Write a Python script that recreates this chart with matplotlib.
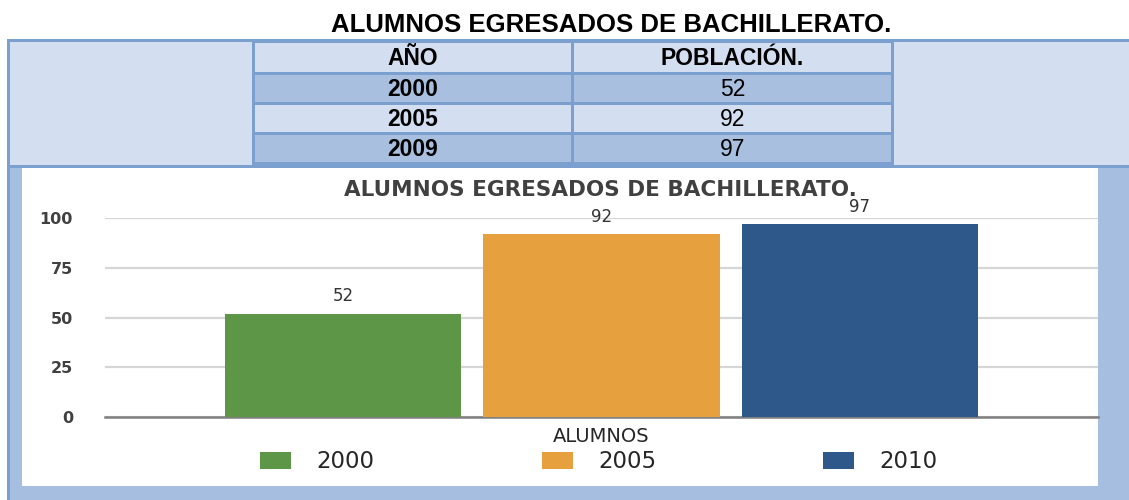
import matplotlib
matplotlib.use("Agg")
import matplotlib.pyplot as plt
from matplotlib.patches import Rectangle

# table data (top of the page)
table_title = "ALUMNOS EGRESADOS DE BACHILLERATO."
table_header = ["AÑO", "POBLACIÓN."]
table_years = ["2000", "2005", "2009"]
table_values = [52, 92, 97]

# chart data (embedded picture below the table)
chart_title = "ALUMNOS EGRESADOS DE BACHILLERATO."
category = "ALUMNOS"
series_labels = ["2000", "2005", "2010"]
series_values = [52, 92, 97]
series_colors = ["#5e9648", "#e6a13e", "#2e588a"]
y_ticks = [0, 25, 50, 75, 100]

W, H = 1129, 500
border = "#7b9fcf"
light = "#d3dff0"
dark = "#a8bfe0"
frame = "#a6bedf"

fig = plt.figure(figsize=(W / 100, H / 100), dpi=100, facecolor="white")

# background axes in pixel units for the document look
bg = fig.add_axes([0, 0, 1, 1])
bg.set_xlim(0, W)
bg.set_ylim(H, 0)
bg.axis("off")

def box(x0, y0, x1, y1, color):
    bg.add_patch(Rectangle((x0, y0), x1 - x0, y1 - y0, facecolor=color, edgecolor="none"))

bg.text(611, 32, table_title, ha="center", va="baseline", fontsize=18.5,
        fontweight="bold", family="Liberation Sans", color="black")

# table frame
box(7, 39, W, 168, border)
box(10, 42, 252, 165, light)
box(894, 42, W, 165, light)
col_x = [(255, 571), (574, 891)]
row_h = 30
head_top, head_bot = 43, 72
for (x0, x1), txt in zip(col_x, table_header):
    box(x0, head_top, x1, head_bot, light)
    bg.text((x0 + x1) / 2, (head_top + head_bot) / 2 + 1, txt, ha="center", va="center",
            fontsize=16.5, fontweight="bold", family="Liberation Sans")
for i, (yr, val) in enumerate(zip(table_years, table_values)):
    y0 = head_bot + 3 + i * row_h
    y1 = y0 + row_h - 3
    c = dark if i % 2 == 0 else light
    for (x0, x1) in col_x:
        box(x0, y0, x1, y1, c)
    bg.text(sum(col_x[0]) / 2, (y0 + y1) / 2 + 1, yr, ha="center", va="center",
            fontsize=16.5, fontweight="bold", family="Liberation Sans")
    bg.text(sum(col_x[1]) / 2, (y0 + y1) / 2 + 1, str(val), ha="center", va="center",
            fontsize=16.5, family="Liberation Sans")

# chart picture frame
box(7, 168, 10, H, border)
box(10, 168, W, H, frame)
box(22, 168, 1098, 486, "white")

bg.text(600, 190, chart_title, ha="center", va="center", fontsize=15.5,
        fontweight="bold", family="DejaVu Sans", color="#404040")

# bar chart
ax = fig.add_axes([105 / W, 1 - 417 / H, (1098 - 105) / W, (417 - 218.3) / H])
ax.set_facecolor("none")
ax.set_xlim(-0.5, 0.5)
ax.set_ylim(0, 100)
step = 0.26
width = 0.238
for i, (lab, val, col) in enumerate(zip(series_labels, series_values, series_colors)):
    bc = ax.bar((i - 1) * step, val, width=width, color=col, label=lab, zorder=3)
    ax.bar_label(bc, padding=6, fontsize=12, color="#333333", family="DejaVu Sans")

ax.set_yticks(y_ticks)
ax.set_xticks([0])
ax.set_xticklabels([category])
ax.tick_params(axis="y", length=0, pad=23, labelsize=11.5, labelcolor="#404040")
ax.tick_params(axis="x", length=0, pad=7, labelsize=14, labelcolor="#262626")
for t in ax.get_yticklabels():
    t.set_fontweight("bold")
ax.yaxis.grid(True, color="#d6d6d6", linewidth=1.6)
ax.set_axisbelow(True)
for s in ["top", "right", "left"]:
    ax.spines[s].set_visible(False)
ax.spines["bottom"].set_color("#7f7f7f")
ax.spines["bottom"].set_linewidth(1.8)

ax.legend(loc="center", bbox_to_anchor=(599 / W, 1 - 462 / H), bbox_transform=fig.transFigure,
          ncol=3, frameon=False, fontsize=16.5, handlelength=1.35, handleheight=0.82,
          handletextpad=1.1, columnspacing=7.3, labelcolor="#262626")

fig.savefig("out.png", dpi=100, facecolor="white")
